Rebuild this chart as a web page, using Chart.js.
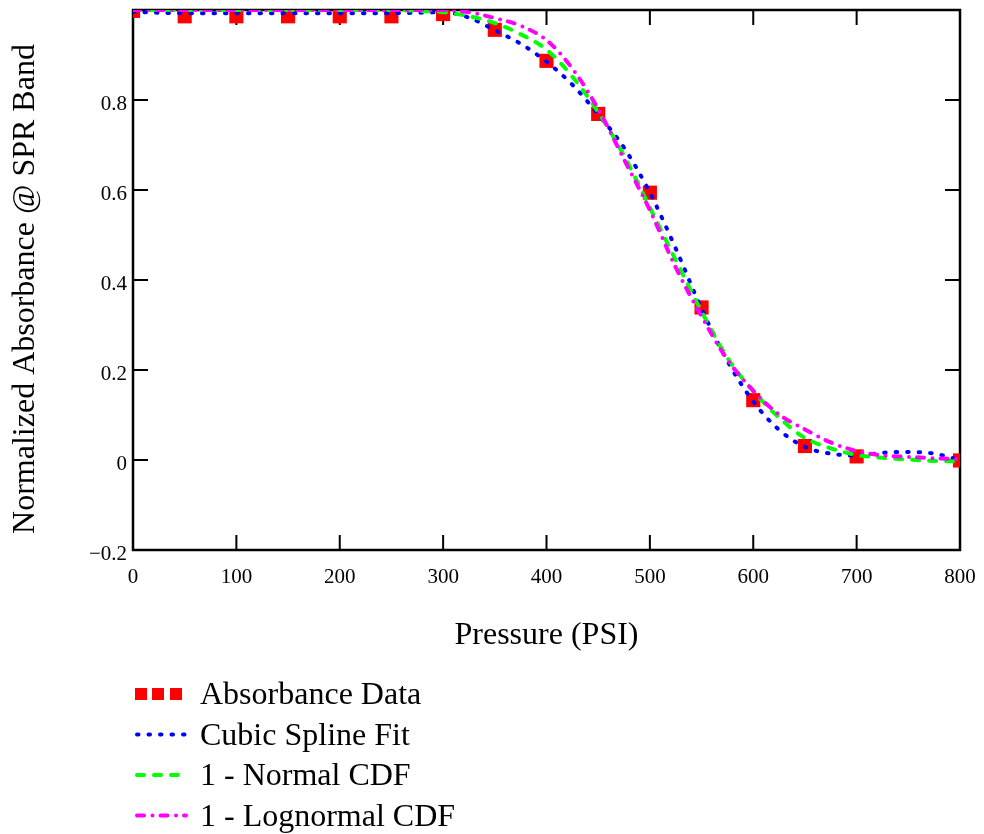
<!DOCTYPE html>
<html>
<head>
<meta charset="utf-8">
<title>Normalized Absorbance vs Pressure</title>
<script src="https://cdn.jsdelivr.net/npm/chart.js@4"></script>
<style>
  html, body { margin: 0; padding: 0; background: #fff; }
  #wrap { width: 984px; height: 834px; }
</style>
</head>
<body>
<div id="wrap"><canvas id="absChart" width="984" height="834"></canvas></div>
<script>
// Measured absorbance at the SPR band, normalized
const dataPsi = [0, 50, 100, 150, 200, 250, 300, 350, 400, 450, 500, 550, 600, 650, 700, 800];
const absorbance = [0.998, 0.986, 0.986, 0.986, 0.986, 0.986, 0.991, 0.956, 0.887, 0.769, 0.594, 0.339, 0.133, 0.031, 0.008, -0.001];

// Fitted curves, sampled every 25 psi
const fitPsi = [0, 25, 50, 75, 100, 125, 150, 175, 200, 225, 250, 275, 300, 325, 350, 375, 400,
  425, 450, 475, 500, 525, 550, 575, 600, 625, 650, 675, 700, 725, 750, 775, 800];
const splineFit = [0.996, 0.994, 0.993, 0.993, 0.993, 0.993, 0.993, 0.993, 0.993, 0.993, 0.993, 0.994, 0.995,
  0.983, 0.955, 0.925, 0.885, 0.834, 0.768, 0.694, 0.594, 0.470, 0.336, 0.220, 0.130, 0.067, 0.029,
  0.014, 0.010, 0.016, 0.018, 0.014, 0.000];
const normalFit = [1.000, 1.000, 1.000, 1.000, 1.000, 1.000, 1.000, 1.000, 1.000, 1.000, 1.000, 0.998, 0.995,
  0.986, 0.971, 0.946, 0.912, 0.852, 0.773, 0.676, 0.561, 0.444, 0.330, 0.227, 0.153, 0.094, 0.049,
  0.026, 0.011, 0.005, 0.001, -0.002, -0.003];
const lognormalFit = [1.000, 1.000, 1.000, 1.000, 1.000, 1.000, 1.000, 1.000, 1.000, 1.000, 1.000, 1.000, 1.000,
  0.995, 0.982, 0.965, 0.933, 0.870, 0.780, 0.668, 0.555, 0.428, 0.319, 0.223, 0.154, 0.101, 0.068,
  0.039, 0.020, 0.010, 0.007, 0.004, 0.002];

const xTicks = [0, 100, 200, 300, 400, 500, 600, 700, 800];
const yTitle = 'Normalized Absorbance @ SPR Band';

const pairs = (xs, ys) => xs.map((x, i) => ({ x: x, y: ys[i] }));

const SERIF = "'Liberation Serif', 'Times New Roman', serif";
Chart.defaults.font.family = SERIF;
Chart.defaults.color = '#000';

// Box around the plot with inward ticks on all four sides
const frameTicks = {
  id: 'frameTicks',
  beforeDatasetsDraw(chart) {
    const { ctx, chartArea: a, scales: { x, y } } = chart;
    const len = 15;
    ctx.save();
    ctx.strokeStyle = '#000';
    ctx.lineWidth = 2;
    ctx.beginPath();
    x.ticks.forEach(t => {
      const px = x.getPixelForValue(t.value);
      ctx.moveTo(px, a.bottom); ctx.lineTo(px, a.bottom - len);
      ctx.moveTo(px, a.top); ctx.lineTo(px, a.top + len);
    });
    y.ticks.forEach(t => {
      const py = y.getPixelForValue(t.value);
      ctx.moveTo(a.left, py); ctx.lineTo(a.left + len, py);
      ctx.moveTo(a.right, py); ctx.lineTo(a.right - len, py);
    });
    ctx.stroke();
    ctx.lineWidth = 2.5;
    ctx.strokeRect(a.left, a.top, a.right - a.left, a.bottom - a.top);
    ctx.restore();
  }
};

// Rotated y axis title, sitting a little below the middle of the plot
const yAxisTitle = {
  id: 'yAxisTitle',
  afterDraw(chart) {
    const ctx = chart.ctx;
    ctx.save();
    ctx.translate(26, 289);
    ctx.rotate(-Math.PI / 2);
    ctx.fillStyle = '#000';
    ctx.font = '32px ' + SERIF;
    ctx.textAlign = 'center';
    ctx.textBaseline = 'middle';
    ctx.fillText(yTitle, 0, 0);
    ctx.restore();
  }
};

// Legend stacked under the x axis title, one entry per row
const stackedLegend = {
  id: 'stackedLegend',
  afterDraw(chart) {
    const ctx = chart.ctx;
    const x0 = 135, x1 = 188, top = 694, step = 40.5;
    ctx.save();
    chart.data.datasets.forEach((ds, i) => {
      const y = top + i * step;
      if (ds.showLine === false) {
        ctx.fillStyle = ds.backgroundColor;
        [141, 158, 176].forEach(cx => ctx.fillRect(cx - 6, y - 6, 12, 12));
      } else {
        ctx.strokeStyle = ds.borderColor;
        ctx.lineWidth = ds.borderWidth;
        ctx.lineCap = 'round';
        ctx.setLineDash(ds.borderDash);
        ctx.beginPath();
        ctx.moveTo(x0 + 2, y);
        ctx.lineTo(x1 - 2, y);
        ctx.stroke();
        ctx.setLineDash([]);
      }
      ctx.fillStyle = '#000';
      ctx.font = '32px ' + SERIF;
      ctx.textBaseline = 'middle';
      ctx.textAlign = 'left';
      ctx.fillText(ds.label, 200, y + 2);
    });
    ctx.restore();
  }
};

new Chart(document.getElementById('absChart'), {
  type: 'line',
  data: {
    datasets: [
      {
        label: 'Absorbance Data',
        data: pairs(dataPsi, absorbance),
        showLine: false,
        pointStyle: 'rect',
        pointRadius: 10,
        pointBorderWidth: 0,
        backgroundColor: '#ff0000',
        borderColor: '#ff0000',
        clip: 0,
        order: 4
      },
      {
        label: 'Cubic Spline Fit',
        data: pairs(fitPsi, splineFit),
        borderColor: '#0000ff',
        borderWidth: 4,
        borderDash: [1.5, 10],
        borderCapStyle: 'round',
        cubicInterpolationMode: 'monotone',
        pointRadius: 0,
        fill: false,
        clip: 0,
        order: 3
      },
      {
        label: '1 - Normal CDF',
        data: pairs(fitPsi, normalFit),
        borderColor: '#00ff00',
        borderWidth: 4,
        borderDash: [7, 10],
        borderCapStyle: 'round',
        cubicInterpolationMode: 'monotone',
        pointRadius: 0,
        fill: false,
        clip: 0,
        order: 2
      },
      {
        label: '1 - Lognormal CDF',
        data: pairs(fitPsi, lognormalFit),
        borderColor: '#ff00ff',
        borderWidth: 4,
        borderDash: [7, 8.5, 0, 8],
        borderCapStyle: 'round',
        cubicInterpolationMode: 'monotone',
        pointRadius: 0,
        fill: false,
        clip: 0,
        order: 1
      }
    ]
  },
  options: {
    responsive: false,
    animation: false,
    events: [],
    layout: { padding: { left: 0, top: 4, right: 24, bottom: 174 } },
    plugins: {
      legend: { display: false },
      tooltip: { enabled: false }
    },
    scales: {
      x: {
        type: 'linear',
        min: 0,
        max: 800,
        afterBuildTicks: s => { s.ticks = xTicks.map(v => ({ value: v })); },
        afterFit: s => { s.height = 110; s.paddingLeft = 0; s.paddingRight = 0; },
        grid: { display: false, drawTicks: false },
        border: { display: false },
        ticks: { font: { size: 21 }, padding: 15, maxRotation: 0 },
        title: { display: true, text: 'Pressure (PSI)', font: { size: 32 }, padding: { top: 0, bottom: 5 } }
      },
      y: {
        min: -0.2,
        max: 1,
        afterFit: s => { s.width = 133; s.paddingTop = 0; s.paddingBottom = 0; },
        grid: { display: false, drawTicks: false },
        border: { display: false },
        ticks: {
          stepSize: 0.2,
          font: { size: 21 },
          padding: 6,
          labelOffset: 4,
          callback: v => {
            const r = Math.round(v * 10) / 10;
            if (r >= 1) return null;
            return String(r).replace('-', '\u2212');
          }
        }
      }
    }
  },
  plugins: [frameTicks, yAxisTitle, stackedLegend]
});
</script>
</body>
</html>
